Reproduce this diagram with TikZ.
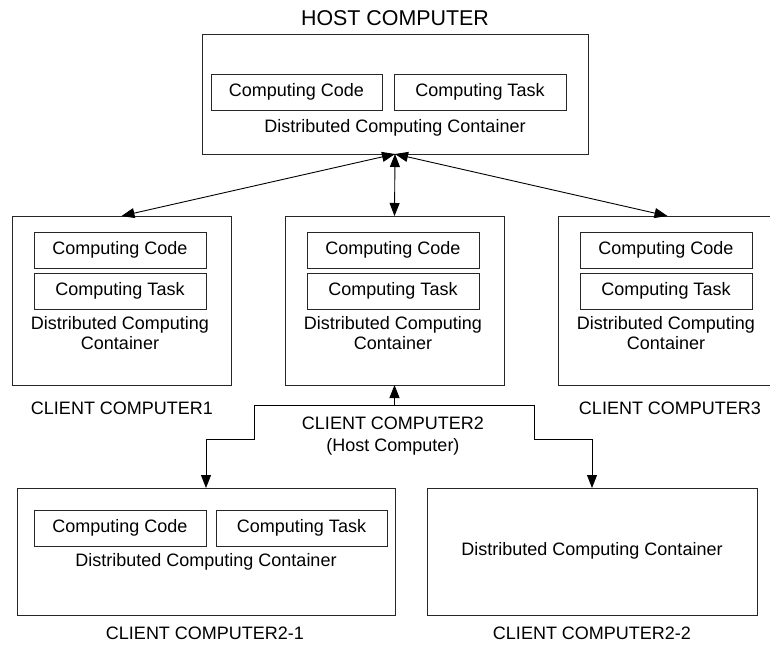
\documentclass[tikz,border=0pt]{standalone}
\usepackage{fontspec}
\setmainfont{Liberation Sans}
\usetikzlibrary{arrows.meta}

\tikzset{
  every node/.style={font=\fontsize{18}{20}\selectfont, inner sep=0pt, outer sep=0pt},
  outerbox/.style={draw=black!85, line width=0.9pt, fill=white},
  innerbox/.style={draw=black!85, line width=0.9pt, minimum height=36pt},
  label/.style={align=center},
  tip/.style={-{Triangle[length=13pt,width=10pt]}},
  both/.style={{Triangle[length=13pt,width=10pt]}-{Triangle[length=13pt,width=10pt]}},
  wire/.style={line width=0.9pt, black},
}

\begin{document}
\begin{tikzpicture}[x=1pt, y=-1pt]
\useasboundingbox (0,0) rectangle (770,645);
\clip (0,0) rectangle (770,645);

% host computer
\node[font=\fontsize{21.4}{24}\selectfont] (hosttitle) at (395,18) {HOST COMPUTER};
\node[outerbox, minimum width=386pt, minimum height=120pt] (host) at (395,94) {};
\node[innerbox, minimum width=171pt] (hcode) at (296.5,92) {Computing Code};
\node[innerbox, minimum width=172pt] (htask) at (480,92) {Computing Task};
\node (hcont) at (395,128) {Distributed Computing Container};

% client computers 1..3
\foreach \n/\cx/\ix in {c1/121.5/120, c2/394.5/393, c3/667.5/666}{
  \node[outerbox, minimum width=219pt, minimum height=169pt] (\n) at (\cx,300.5) {};
  \node[innerbox, minimum width=172pt] (\n code) at (\ix,250) {Computing Code};
  \node[innerbox, minimum width=172pt] (\n task) at (\ix,291) {Computing Task};
  \node[label] (\n cont) at (\ix,333) {Distributed Computing\\Container};
}
\node (c1lab) at (122,408) {CLIENT COMPUTER1};
\node (c3lab) at (670,408) {CLIENT COMPUTER3};
\node (c2lab) at (393,423) {CLIENT COMPUTER2};
\node (c2sub) at (393,447) {(Host Computer)};

% client computers 2-1 and 2-2
\node[outerbox, minimum width=378pt, minimum height=127pt] (c21) at (206,551.5) {};
\node[innerbox, minimum width=172pt] (c21code) at (120,528) {Computing Code};
\node[innerbox, minimum width=171pt] (c21task) at (301.5,528) {Computing Task};
\node (c21cont) at (206,562) {Distributed Computing Container};
\node (c21lab) at (205,633) {CLIENT COMPUTER2-1};

\node[outerbox, minimum width=330pt, minimum height=127pt] (c22) at (592,551.5) {};
\node (c22cont) at (592,551) {Distributed Computing Container};
\node (c22lab) at (592,633) {CLIENT COMPUTER2-2};

% links between host and clients
\draw[wire, both] (host.south) -- (c1.north);
\draw[wire, both] (host.south) -- (c2.north);
\draw[wire, both] (host.south) -- (c3.north);

% distribution bus below client 2
\coordinate (busC) at (394.5,405);
\coordinate (busL) at (254,405);
\coordinate (busR) at (534,405);
\coordinate (kneeL) at (254,439);
\coordinate (kneeR) at (534,439);
\draw[wire, tip] (busC) -- (c2.south);
\draw[wire] (busL) -- (busR);
\draw[wire, tip] (busL) -- (kneeL) -| (c21.north);
\draw[wire, tip] (busR) -- (kneeR) -| (c22.north);
\end{tikzpicture}
\end{document}
